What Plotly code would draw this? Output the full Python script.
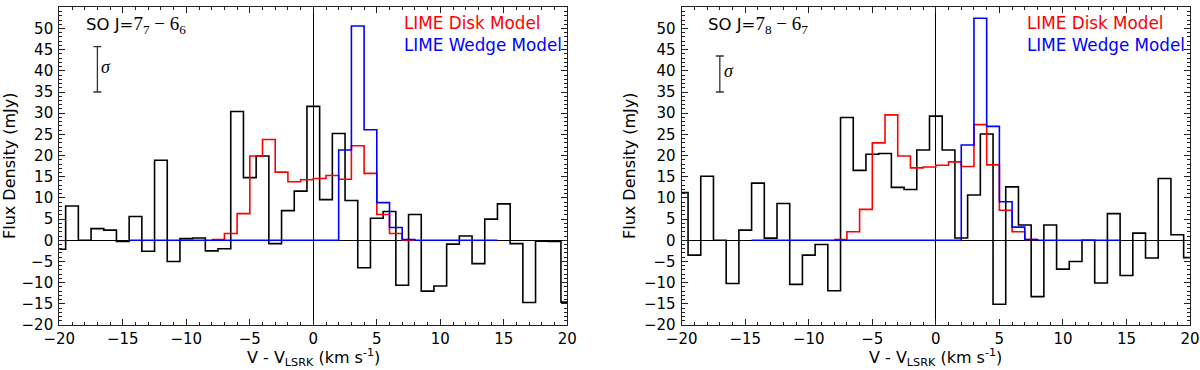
import plotly.graph_objects as go

# ---------------- data ----------------
channels = list(range(-20, 21))  # km/s channel centres

obs_77 = [-2.1, 8.1, 0.0, 2.75, 2.4, -0.3, 5.6, -2.6, 18.9, -5.0,
          0.4, 0.55, -2.5, -2.0, 30.4, 14.8, 19.9, -0.8, 7.0, 11.6,
          31.6, 9.6, 25.2, 9.4, -6.5, 5.2, 6.8, -10.6, 6.1, -12.0,
          -10.8, -0.9, 1.0, -5.5, 5.0, 8.6, -0.8, -14.7, -0.2, -0.3, -14.6]

obs_78 = [11.25, -3.5, 15.1, 0.0, -10.2, 2.4, 13.5, 0.5, 8.7, -10.4,
          -3.5, -1.0, -11.9, 29.0, 16.5, 20.3, 20.5, 12.5, 12.0, 21.3,
          29.3, 21.3, 0.55, 10.7, 25.1, -15.1, 12.6, 3.6, -13.3, 3.6,
          -6.8, -5.0, 0.0, -10.1, 6.3, -8.3, 1.7, -4.2, 14.6, 1.3, -4.1]

disk_edges = list(range(-8, 9))
disk_77 = [0.2, 1.6, 6.3, 19.9, 23.8, 16.1, 13.8, 14.3,
           14.6, 15.3, 14.4, 22.3, 15.8, 6.1, 1.6, 0.0]
disk_78 = [0.2, 2.0, 7.3, 23.0, 29.6, 19.9, 17.1, 17.3,
           17.7, 18.5, 17.4, 27.3, 17.8, 7.1, 2.0, 0.2]

wedge_edges = [-14.5, 2, 3, 4, 5, 6, 7, 8, 14.5]
wedge_77 = [0.0, 21.3, 50.6, 26.1, 8.9, 3.0, 0.2, 0.0]
wedge_78 = [0.0, 22.5, 52.4, 26.9, 9.1, 3.1, 0.2, 0.0]

sigma_vals = [10.7, 8.5]       # mJy, length of the sigma bar
sigma_base = 35
y_ticks = list(range(-20, 60, 5))
x_ticks = list(range(-20, 25, 5))

W, H = 1200, 370
FONT = "DejaVu Sans"

def px(x):
    return x / W

def py(y):
    return (H - y) / H

fig = go.Figure()

def step_edges(edges, vals):
    xs = list(edges[:-1]) + [edges[-1]]
    ys = list(vals) + [vals[-1]]
    return xs, ys

MATH = "font-family:'Liberation Serif';font-size:19px"
panels = [
    (obs_77, disk_77, wedge_77, sigma_vals[0], "x", "y",
     f"SO J=<span style=\"{MATH}\">7<sub>7</sub> − 6<sub>6</sub></span>"),
    (obs_78, disk_78, wedge_78, sigma_vals[1], "x2", "y2",
     f"SO J=<span style=\"{MATH}\">7<sub>8</sub> − 6<sub>7</sub></span>"),
]

for obs, disk, wedge, sig, xa, ya, label in panels:
    fig.add_trace(go.Scatter(x=channels, y=obs, mode="lines", line_shape="hvh",
                             line=dict(color="black", width=1.6),
                             xaxis=xa, yaxis=ya, showlegend=False, hoverinfo="skip"))
    dx, dy = step_edges(disk_edges, disk)
    fig.add_trace(go.Scatter(x=dx, y=dy, mode="lines", line_shape="hv",
                             line=dict(color="#ff0000", width=1.6),
                             xaxis=xa, yaxis=ya, showlegend=False, hoverinfo="skip"))
    wx, wy = step_edges(wedge_edges, wedge)
    fig.add_trace(go.Scatter(x=wx, y=wy, mode="lines", line_shape="hv",
                             line=dict(color="#0000ff", width=1.6),
                             xaxis=xa, yaxis=ya, showlegend=False, hoverinfo="skip"))
    # sigma bar
    fig.add_trace(go.Scatter(x=[-17], y=[sigma_base + sig / 2], mode="markers",
                             marker=dict(size=1, color="rgba(0,0,0,0)"),
                             error_y=dict(type="data", array=[sig / 2], visible=True,
                                          color="#333333", thickness=1.3, width=4),
                             xaxis=xa, yaxis=ya, showlegend=False, hoverinfo="skip"))
    fig.add_annotation(x=-16.85, y=sigma_base + sig / 2 + 0.6, xref=xa, yref=ya,
                       text="<i>σ</i>", showarrow=False, xanchor="left", yanchor="middle",
                       font=dict(family="Liberation Serif", size=18, color="black"))
    fig.add_annotation(x=-18.05, y=50.8, xref=xa, yref=ya, text=label,
                       showarrow=False, xanchor="left", yanchor="middle",
                       font=dict(family=FONT, size=16.5, color="black"))
    fig.add_annotation(x=7.0, y=51.3, xref=xa, yref=ya, text="LIME Disk Model",
                       showarrow=False, xanchor="left", yanchor="middle",
                       font=dict(family=FONT, size=16.8, color="#ff0000"))
    fig.add_annotation(x=7.0, y=46.2, xref=xa, yref=ya, text="LIME Wedge Model",
                       showarrow=False, xanchor="left", yanchor="middle",
                       font=dict(family=FONT, size=16.8, color="#0000ff"))

# axis titles
for xc, yc in [(313.3, 9), (935.8, 629)]:
    fig.add_annotation(x=px(xc), y=py(357), xref="paper", yref="paper",
                       text="V - V<sub>LSRK</sub> (km s<sup>-1</sup>)", showarrow=False,
                       xanchor="center", yanchor="middle",
                       font=dict(family=FONT, size=16, color="black"))
    fig.add_annotation(x=px(yc), y=py(166), xref="paper", yref="paper",
                       text="Flux Density (mJy)", showarrow=False, textangle=-90,
                       xanchor="center", yanchor="middle",
                       font=dict(family=FONT, size=16, color="black"))

common_x = dict(range=[-20, 20], tickvals=x_ticks, ticks="inside", ticklen=6,
                tickcolor="#222", showline=True, linecolor="#222", linewidth=1.2,
                mirror="ticks", showgrid=False, zeroline=True, zerolinecolor="black",
                zerolinewidth=1, tickfont=dict(family=FONT, size=15, color="black"),
                minor=dict(dtick=1, tick0=0, ticks="inside", ticklen=3, tickcolor="#222"),
                fixedrange=True, automargin=False)
common_y = dict(range=[-20, 55], tickvals=y_ticks, ticks="inside", ticklen=6,
                tickcolor="#222", showline=True, linecolor="#222", linewidth=1.2,
                mirror="ticks", showgrid=False, zeroline=True, zerolinecolor="black",
                zerolinewidth=1, tickfont=dict(family=FONT, size=15, color="black"),
                minor=dict(dtick=1, tick0=0, ticks="inside", ticklen=3, tickcolor="#222"),
                fixedrange=True, automargin=False, ticklabelstandoff=2)

yd = [py(325), py(7.3)]
fig.update_layout(
    width=W, height=H,
    margin=dict(l=0, r=0, t=0, b=0),
    paper_bgcolor="white", plot_bgcolor="white",
    xaxis=dict(domain=[px(59.3), px(567.3)], anchor="y", **common_x),
    yaxis=dict(domain=yd, anchor="x", **common_y),
    xaxis2=dict(domain=[px(681.7), px(1190)], anchor="y2", **common_x),
    yaxis2=dict(domain=yd, anchor="x2", **common_y),
    showlegend=False,
)

fig.write_html("out.html", config={"displayModeBar": False},
               post_script="document.body.style.margin='0';document.body.style.overflow='hidden';")
